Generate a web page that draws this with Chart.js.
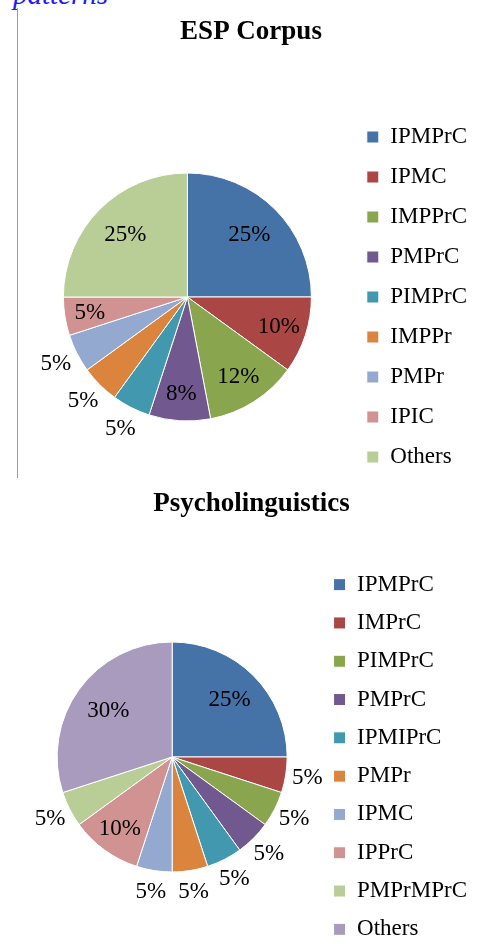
<!DOCTYPE html>
<html>
<head>
<meta charset="utf-8">
<script src="https://cdn.jsdelivr.net/npm/chart.js@4/dist/chart.umd.min.js"></script>
<style>
  html, body { margin: 0; padding: 0; background: #fff; }
  #page { position: relative; width: 477px; height: 944px; overflow: hidden; }
  #caption { position: absolute; left: 13px; top: -20px; font: italic 29px "Liberation Serif"; line-height: 29px; color: #1a1aff; white-space: nowrap; }
  #rule { position: absolute; left: 17px; top: 8px; width: 1px; height: 470px; background: #9a9a9a; }
  canvas { position: absolute; left: 22px; }
  #esp { top: 0; }
  #psy { top: 486px; }
</style>
</head>
<body>
<div id="page">
  <div id="caption">patterns</div>
  <div id="rule"></div>
  <canvas id="esp" width="455" height="486"></canvas>
  <canvas id="psy" width="455" height="471"></canvas>
</div>
<script>
// ESP Corpus
const espLabels = ["IPMPrC", "IPMC", "IMPPrC", "PMPrC", "PIMPrC", "IMPPr", "PMPr", "IPIC", "Others"];
const espValues = [25, 10, 12, 8, 5, 5, 5, 5, 25];
const espColors = ["#4572a7", "#aa4643", "#89a54e", "#71588f", "#4198af", "#db843d", "#93a9cf", "#d19392", "#b9cd96"];

// Psycholinguistics
const psyLabels = ["IPMPrC", "IMPrC", "PIMPrC", "PMPrC", "IPMIPrC", "PMPr", "IPMC", "IPPrC", "PMPrMPrC", "Others"];
const psyValues = [25, 5, 5, 5, 5, 5, 5, 10, 5, 30];
const psyColors = ["#4572a7", "#aa4643", "#89a54e", "#71588f", "#4198af", "#db843d", "#93a9cf", "#d19392", "#b9cd96", "#a99bbd"];

const serif = "'Liberation Serif', 'Times New Roman', serif";

// percent labels: inside the slice, or just outside for the thin ones
const sliceLabels = {
    id: "sliceLabels",
    afterDatasetsDraw(chart, args, opts) {
        const ctx = chart.ctx;
        const meta = chart.getDatasetMeta(0);
        const values = chart.data.datasets[0].data;
        ctx.save();
        ctx.font = "23px " + serif;
        ctx.fillStyle = "#000";
        ctx.textAlign = "center";
        ctx.textBaseline = "middle";
        meta.data.forEach((arc, i) => {
            const { x, y, startAngle, endAngle, outerRadius } =
                arc.getProps(["x", "y", "startAngle", "endAngle", "outerRadius"], true);
            const mid = (startAngle + endAngle) / 2;
            // big slices keep their label a bit nearer the centre
            const k = opts.outside.includes(i) ? 1.19 : 0.82 - 0.0045 * values[i];
            const r = outerRadius * k;
            ctx.fillText(values[i] + "%", x + Math.cos(mid) * r, y + Math.sin(mid) * r);
        });
        ctx.restore();
    }
};

function makePie(id, title, labels, values, colors, cfg) {
    return new Chart(document.getElementById(id), {
        type: "pie",
        data: {
            labels: labels,
            datasets: [{
                data: values,
                backgroundColor: colors,
                borderColor: "#ffffff",
                borderWidth: 1
            }]
        },
        plugins: [sliceLabels],
        options: {
            responsive: false,
            animation: false,
            events: [],
            radius: cfg.radius,
            layout: { padding: { left: cfg.padLeft, right: 0, top: 0, bottom: 0 } },
            plugins: {
                title: {
                    display: true,
                    text: title,
                    color: "#000",
                    font: { family: serif, size: 27, weight: "bold" },
                    padding: { top: cfg.titleTop, bottom: cfg.titleBottom }
                },
                legend: {
                    position: "right",
                    align: "center",
                    fullSize: false,
                    labels: {
                        color: "#000",
                        font: { family: serif, size: 23 },
                        boxWidth: 12,
                        boxHeight: 12,
                        padding: cfg.legendGap
                    }
                },
                tooltip: { enabled: false },
                sliceLabels: { outside: cfg.outside }
            }
        }
    });
}

makePie("esp", "ESP Corpus", espLabels, espValues, espColors, {
    radius: 124, padLeft: 3, titleTop: 15.8, titleBottom: 59.8, legendGap: 17, outside: [4, 5, 6]
});
makePie("psy", "Psycholinguistics", psyLabels, psyValues, psyColors, {
    radius: 115, padLeft: 4, titleTop: 2, titleBottom: 36.6, legendGap: 15.3, outside: [1, 2, 3, 4, 5, 6, 8]
});
</script>
</body>
</html>
